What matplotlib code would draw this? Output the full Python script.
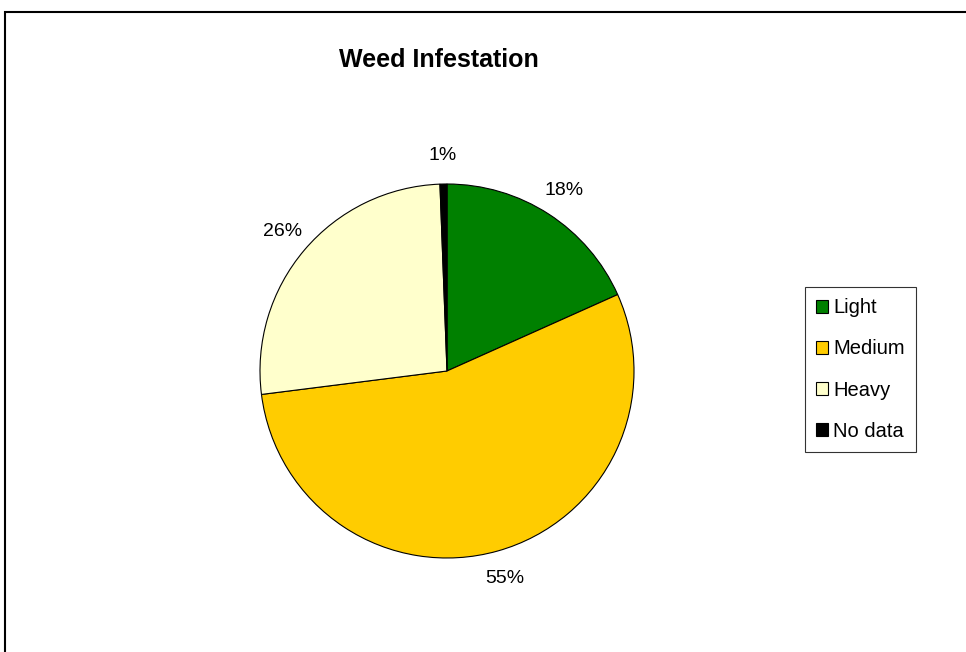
import matplotlib
matplotlib.use("Agg")
import matplotlib.pyplot as plt
from matplotlib.patches import Rectangle, Patch

categories = ["Light", "Medium", "Heavy", "No data"]
values = [18.3, 54.7, 26.4, 0.6]
colors = ["#008000", "#FFCC00", "#FFFFCC", "#000000"]
title = "Weed Infestation"

plt.rcParams['font.family'] = ['Liberation Sans', 'DejaVu Sans']

W, H = 966, 652
fig = plt.figure(figsize=(W / 100, H / 100), dpi=100)
fig.patch.set_facecolor("white")

# outer chart frame (extends beyond right/bottom edges)
fig.add_artist(Rectangle((4.5 / W, -0.05), 1.1, (H - 11.5) / H + 0.05,
                         transform=fig.transFigure, fill=False,
                         edgecolor="black", linewidth=1.5))

cx, cy, r = 447, 371, 187
ax = fig.add_axes([(cx - r) / W, (H - cy - r) / H, 2 * r / W, 2 * r / H])
wedges, texts, autotexts = ax.pie(
    values, colors=colors, startangle=90, counterclock=False,
    autopct="%.0f%%", pctdistance=1.15,
    wedgeprops=dict(edgecolor="black", linewidth=0.8),
    textprops=dict(fontsize=14, color="black"))
ax.set_aspect("equal")
ax.set_xlim(-1, 1)
ax.set_ylim(-1, 1)

fig.text(439 / W, 1 - 60 / H, title, ha="center", va="center",
         fontsize=18, fontweight="bold")

handles = [Patch(facecolor=c, edgecolor="black", linewidth=0.8) for c in colors]
leg = fig.legend(handles, categories, loc="center",
                 bbox_to_anchor=(860.5 / W, 1 - 369.5 / H),
                 fontsize=14.5, frameon=True, fancybox=False,
                 handlelength=0.6, handleheight=0.6, handletextpad=0.25,
                 labelspacing=1.1, borderpad=0.55, borderaxespad=0)
leg.get_frame().set_edgecolor("black")
leg.get_frame().set_linewidth(0.8)

fig.savefig("out.png", dpi=100)
